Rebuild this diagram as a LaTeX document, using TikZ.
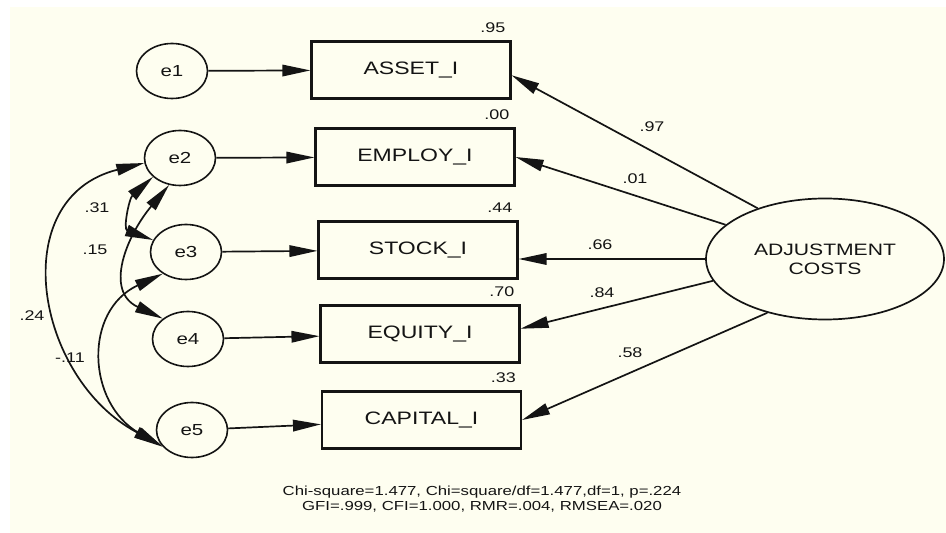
\documentclass[tikz,border=0pt]{standalone}
\usepackage{fontspec}
\setmainfont{Liberation Sans}[FakeStretch=1.28]
\usetikzlibrary{shapes.geometric,arrows.meta}
\definecolor{paper}{RGB}{254,254,240}
\definecolor{ink}{RGB}{20,20,20}
\begin{document}
\begin{tikzpicture}[x=1pt,y=1pt,
  errnode/.style={ellipse, draw=ink, line width=1.6pt, minimum width=71pt,
    minimum height=55pt, inner sep=0pt, text=ink, font=\fontsize{16}{18}\selectfont},
  obsnode/.style={rectangle, draw=ink, line width=2.1pt, minimum width=199pt,
    minimum height=57pt, inner sep=0pt, text=ink, font=\fontsize{18}{20}\selectfont},
  latnode/.style={ellipse, draw=ink, line width=1.7pt, minimum width=238pt,
    minimum height=121pt, inner sep=0pt, align=center, text=ink,
    font=\fontsize{16.5}{19}\selectfont},
  num/.style={inner sep=0pt, text=ink, font=\fontsize{14}{16}\selectfont},
  regpath/.style={-{Triangle[length=28pt,width=11.5pt]}, draw=ink, line width=1.7pt},
  covpath/.style={{Triangle[length=28pt,width=11.5pt]}-{Triangle[length=28pt,width=11.5pt]},
    draw=ink, line width=1.7pt}]
\useasboundingbox (0,0) rectangle (946,533);
\fill[white] (0,0) rectangle (946,533);
\fill[paper] (10,0) rectangle (946,526);

% error terms
\node[errnode] (e1) at (172,462) {e1};
\node[errnode] (e2) at (180,375) {e2};
\node[errnode] (e3) at (186,281) {e3};
\node[errnode] (e4) at (188,194) {e4};
\node[errnode] (e5) at (192,103) {e5};

% observed indicators
\node[obsnode] (asset)   at (411,463)   {ASSET\_I};
\node[obsnode] (employ)  at (415,376)   {EMPLOY\_I};
\node[obsnode] (stock)   at (418,283)   {STOCK\_I};
\node[obsnode] (equity)  at (420,199)   {EQUITY\_I};
\node[obsnode] (capital) at (421.5,113) {CAPITAL\_I};

% latent factor
\node[latnode] (ac) at (825,274) {ADJUSTMENT\\COSTS};

% squared multiple correlations
\node[num, anchor=base east] at ([xshift=-6pt,yshift=8pt]asset.north east)   {.95};
\node[num, anchor=base east] at ([xshift=-6pt,yshift=8pt]employ.north east)  {.00};
\node[num, anchor=base east] at ([xshift=-6pt,yshift=8pt]stock.north east)   {.44};
\node[num, anchor=base east] at ([xshift=-6pt,yshift=8pt]equity.north east)  {.70};
\node[num, anchor=base east] at ([xshift=-6pt,yshift=8pt]capital.north east) {.33};

% error paths
\draw[regpath] (e1) -- (asset);
\draw[regpath] (e2) -- (employ);
\draw[regpath] (e3) -- (stock);
\draw[regpath] (e4) -- (equity);
\draw[regpath] (e5) -- (capital);

% factor loadings
\draw[regpath] (ac.143) -- (asset.-3);
\draw[regpath] (ac.161) -- (employ.east);
\draw[regpath] (ac.west) -- (ac.west -| stock.east);
\draw[regpath] (ac.191) -- (equity.3);
\draw[regpath] (ac.223) -- (capital.east);
\node[num] at (652,406) {.97};
\node[num] at (635,354) {.01};
\node[num] at (600,288) {.66};
\node[num] at (602,240) {.84};
\node[num] at (630,180) {.58};

% error covariances
\draw[covpath] (e2.188) to[out=194, in=152, looseness=1.3] (e5.207);
\draw[covpath] (e2.215) to[out=222, in=160, looseness=1.3] (e3.160);
\draw[covpath] (e2.248) to[out=230, in=155, looseness=1.25] (e4.141);
\draw[covpath] (e3.223) to[out=205, in=150, looseness=1.3] (e5.210);
\node[num] at (97,325) {.31};
\node[num] at (95,283) {.15};
\node[num] at (32,217) {.24};
\node[num] at (70,175) {-.11};

% fit statistics
\node[align=center, text=ink, inner sep=0pt, font=\fontsize{13.1}{15}\selectfont]
  at (482,33.5) {Chi-square=1.477, Chi=square/df=1.477,df=1, p=.224\\
  GFI=.999, CFI=1.000, RMR=.004, RMSEA=.020};
\end{tikzpicture}
\end{document}
